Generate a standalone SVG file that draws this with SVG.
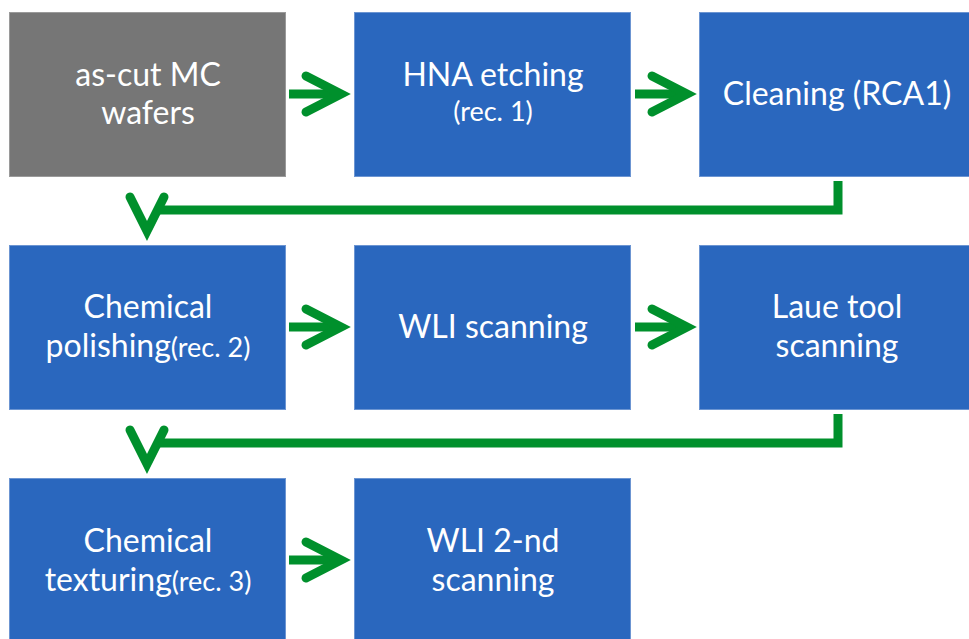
<svg xmlns="http://www.w3.org/2000/svg" width="969" height="639" viewBox="0 0 969 639">
<defs>
<style>
.box{fill:#2A67BE;stroke:#6C95D2;stroke-width:1}
.gray{fill:#767676;stroke:#9a9a9a;stroke-width:1}
text{font-family:Lato,"Liberation Sans",sans-serif;fill:#ffffff;text-anchor:middle}
.t{font-size:32px}
.s{font-size:27px}
.ln{fill:none;stroke:#00902C;stroke-width:9;stroke-linecap:butt;stroke-linejoin:miter}
.hd{fill:none;stroke:#00902C;stroke-width:9;stroke-linecap:round;stroke-linejoin:miter}
</style>
</defs>
<rect width="969" height="639" fill="#ffffff"/>
<g id="n1"><rect class="gray" x="9.5" y="12.5" width="276" height="164"/><text class="t" x="148" y="86">as-cut MC</text><text class="t" x="148" y="124">wafers</text></g>
<g id="n2"><rect class="box" x="354.5" y="12.5" width="276" height="164"/><text class="t" x="493" y="86">HNA etching</text><text class="s" x="493" y="121">(rec. 1)</text></g>
<g id="n3"><rect class="box" x="699.5" y="12.5" width="270" height="164"/><text class="t" x="837" y="105">Cleaning (RCA1)</text></g>
<g id="n4"><rect class="box" x="9.5" y="245.5" width="276" height="164"/><text class="t" x="148" y="318">Chemical</text><text class="t" x="148" y="357">polishing<tspan class="s">(rec. 2)</tspan></text></g>
<g id="n5"><rect class="box" x="354.5" y="245.5" width="276" height="164"/><text class="t" x="493" y="338">WLI scanning</text></g>
<g id="n6"><rect class="box" x="699.5" y="245.5" width="270" height="164"/><text class="t" x="837" y="318">Laue tool</text><text class="t" x="837" y="357">scanning</text></g>
<g id="n7"><rect class="box" x="9.5" y="478.5" width="276" height="164"/><text class="t" x="148" y="552">Chemical</text><text class="t" x="148" y="591">texturing<tspan class="s">(rec. 3)</tspan></text></g>
<g id="n8"><rect class="box" x="354.5" y="478.5" width="276" height="164"/><text class="t" x="493" y="552">WLI 2-nd</text><text class="t" x="493" y="591">scanning</text></g>
<g id="connectors">
<path class="ln" d="M289 94 H338"/><path class="hd" d="M306 76 L341 94 L306 112"/>
<path class="ln" d="M635 94 H684"/><path class="hd" d="M652 76 L687 94 L652 112"/>
<path class="ln" d="M289 327 H338"/><path class="hd" d="M306 309 L341 327 L306 345"/>
<path class="ln" d="M635 327 H684"/><path class="hd" d="M652 309 L687 327 L652 345"/>
<path class="ln" d="M289 560 H338"/><path class="hd" d="M306 542 L341 560 L306 578"/>
<path class="ln" d="M838 181 V210 H158"/><path class="hd" d="M130 197 L147 231 L164 197"/>
<path class="ln" d="M838 414 V443 H158"/><path class="hd" d="M130 430 L147 464 L164 430"/>
</g>
</svg>
